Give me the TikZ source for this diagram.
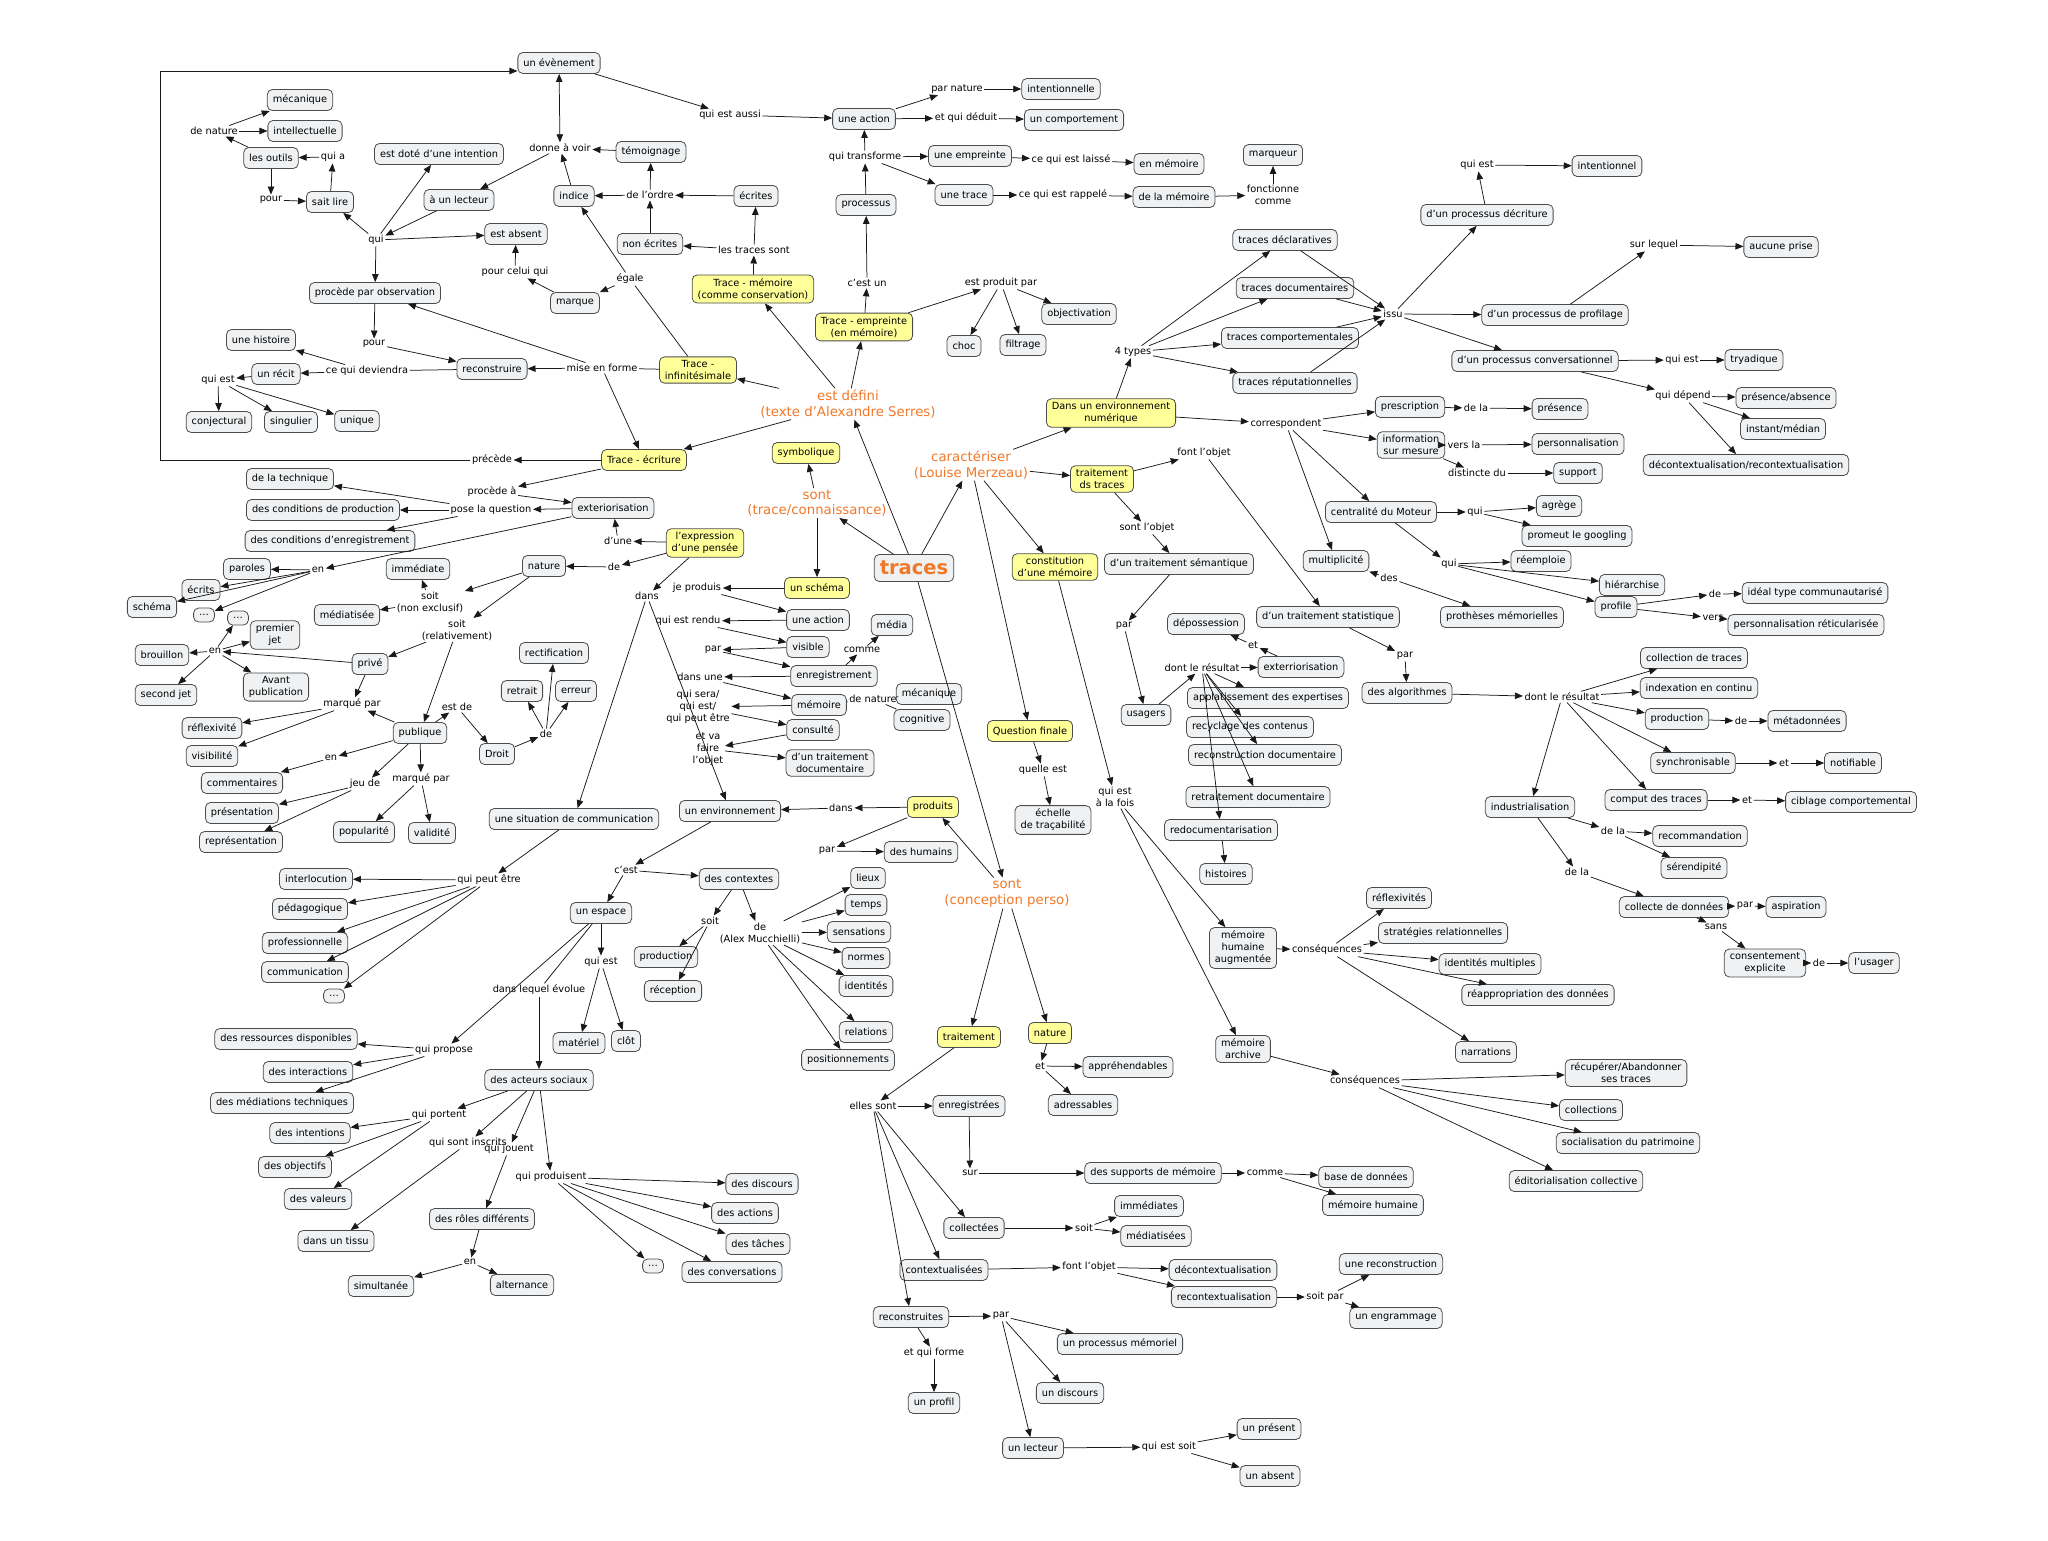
\documentclass[tikz,border=0pt]{standalone}
\usepackage{fontspec}
\setmainfont{DejaVu Sans}
\usetikzlibrary{arrows.meta}
\definecolor{cgray}{RGB}{239,241,243}
\definecolor{cyellow}{RGB}{255,255,153}
\definecolor{corange}{RGB}{240,120,40}

\begin{document}
\begin{tikzpicture}[
  x=1pt, y=-1pt,
  cpt/.style={draw=black!70, rounded corners=5pt, fill=cgray, align=center,
              font=\fontsize{9.8}{12}\selectfont, line width=0.8pt,
              inner xsep=5.5pt, inner ysep=3.5pt, minimum height=21pt},
  ycpt/.style={cpt, fill=cyellow},
  lnk/.style={align=center, font=\fontsize{9.8}{12}\selectfont, inner sep=1.5pt},
  org/.style={align=center, font=\fontsize{13.3}{15.5}\selectfont, text=corange, inner sep=1.5pt},
  big/.style={cpt, font=\bfseries\fontsize{19.5}{21}\selectfont, text=corange, minimum height=27pt},
  arr/.style={-{Triangle[length=8pt, width=6.5pt]}, line width=0.75pt, draw=black!90},
  arr2/.style={{Triangle[length=8pt, width=6.5pt]}-{Triangle[length=8pt, width=6.5pt]},
               line width=0.75pt, draw=black!90},
  ln/.style={line width=0.75pt, draw=black!90}
]
  \useasboundingbox (0,0) rectangle (2048,1540);

  % ========== CENTRE ==========
  \node[big] (traces) at (914,568) {traces};
  \node[org] (estdef) at (848,404) {est défini\\(texte d'Alexandre Serres)};
  \node[org] (sontk) at (817,503) {sont\\(trace/connaissance)};
  \node[org] (caract) at (971,465) {caractériser\\(Louise Merzeau)};
  \node[org] (sontp) at (1007,893) {sont\\(conception perso)};

  % ========== SERRES: TRACES ==========
  \node[ycpt] (tinf) at (698,370) {Trace -\\infinitésimale};
  \node[ycpt] (tmem) at (753,289) {Trace - mémoire\\(comme conservation)};
  \node[ycpt] (temp) at (864,327) {Trace - empreinte\\(en mémoire)};
  \node[ycpt] (tecr) at (644,460) {Trace - écriture};

  \node[cpt] (evt) at (559,63) {un évènement};
  \node[lnk] (qea) at (730,115) {qui est aussi};
  \node[cpt] (act1) at (864,119) {une action};
  \node[lnk] (parnat) at (957,89) {par nature};
  \node[cpt] (intlle) at (1061,89) {intentionnelle};
  \node[lnk] (qded) at (966,118) {et qui déduit};
  \node[cpt] (comport) at (1074,120) {un comportement};
  \node[lnk] (qtrans) at (865,157) {qui transforme};
  \node[cpt] (empr) at (970,156) {une empreinte};
  \node[cpt] (utrace) at (964,195) {une trace};
  \node[cpt] (process) at (866,205) {processus};
  \node[lnk] (qlaisse) at (1071,160) {ce qui est laissé};
  \node[cpt] (enmem) at (1169,164) {en mémoire};
  \node[lnk] (qrapp) at (1063,195) {ce qui est rappelé};
  \node[cpt] (delamem) at (1174,197) {de la mémoire};
  \node[lnk] (fcomme) at (1273,195) {fonctionne\\comme};
  \node[cpt] (marqueur) at (1273,155) {marqueur};
  \node[lnk] (cestun) at (867,283) {c'est un};
  \node[lnk] (prodpar) at (1001,283) {est produit par};
  \node[cpt] (choc) at (964,346) {choc};
  \node[cpt] (filtrage) at (1023,345) {filtrage};
  \node[cpt] (objectiv) at (1079,314) {objectivation};

  \node[lnk] (dav) at (560,148) {donne à voir};
  \node[cpt] (temoin) at (651,152) {témoignage};
  \node[cpt] (indice) at (574,196) {indice};
  \node[lnk] (delord) at (650,195) {de l'ordre};
  \node[cpt] (ecrites) at (756,196) {écrites};
  \node[cpt] (nonecr) at (650,244) {non écrites};
  \node[lnk] (tsont) at (754,250) {les traces sont};
  \node[lnk] (egale) at (630,279) {égale};
  \node[cpt] (marque) at (575,303) {marque};
  \node[lnk] (mef) at (602,368) {mise en forme};

  % ========== TOP LEFT ==========
  \node[lnk] (prec) at (492,460) {précède};
  \node[cpt] (meca1) at (300,100) {mécanique};
  \node[cpt] (intel) at (305,131) {intellectuelle};
  \node[lnk] (denat1) at (214,131) {de nature};
  \node[cpt] (outils) at (271,158) {les outils};
  \node[lnk] (quia) at (333,157) {qui a};
  \node[lnk] (pour1) at (271,200) {pour};
  \node[cpt] (sait) at (330,202) {sait lire};
  \node[cpt] (dote) at (439,154) {est doté d'une intention};
  \node[cpt] (alect) at (459,200) {à un lecteur};
  \node[lnk] (qui1) at (376,240) {qui};
  \node[cpt] (absent) at (516,234) {est absent};
  \node[lnk] (pcq) at (515,272) {pour celui qui};
  \node[cpt] (ppo) at (375,293) {procède par observation};
  \node[lnk] (pour2) at (374,344) {pour};
  \node[cpt] (hist) at (261,340) {une histoire};
  \node[cpt] (reconst) at (492,369) {reconstruire};
  \node[lnk] (cqd) at (367,371) {ce qui deviendra};
  \node[cpt] (recit) at (276,374) {un récit};
  \node[lnk] (qest1) at (218,380) {qui est};
  \node[cpt] (conj) at (219,422) {conjectural};
  \node[cpt] (sing) at (291,422) {singulier};
  \node[cpt] (uniq) at (357,421) {unique};
  \coordinate (fbl) at (160,460);
  \coordinate (ftl) at (160,71);

  % ========== LEFT: EXTERIORISATION ==========
  \node[cpt] (tech) at (290,479) {de la technique};
  \node[lnk] (procda) at (492,492) {procède à};
  \node[cpt] (condprod) at (323,510) {des conditions de production};
  \node[lnk] (plq) at (491,510) {pose la question};
  \node[cpt] (condenr) at (330,541) {des conditions d'enregistrement};
  \node[cpt] (exter) at (613,508) {exteriorisation};
  \node[lnk] (dune) at (618,541) {d'une};
  \node[ycpt] (expr) at (705,543) {l'expression\\d'une pensée};
  \node[cpt] (nature1) at (544,566) {nature};
  \node[lnk] (de2) at (614,567) {de};
  \node[lnk] (en1) at (318,570) {en};
  \node[cpt] (paroles) at (247,569) {paroles};
  \node[cpt] (ecrits) at (201,590) {écrits};
  \node[cpt] (schema) at (152,607) {schéma};
  \node[cpt, minimum height=14pt] (dots1) at (204,615) {…};
  \node[cpt, minimum height=14pt] (dots2) at (238,618) {…};
  \node[cpt] (prem) at (275,635) {premier\\jet};
  \node[lnk] (en2) at (215,651) {en};
  \node[cpt] (brouil) at (162,655) {brouillon};
  \node[cpt] (second) at (166,695) {second jet};
  \node[cpt] (avant) at (276,687) {Avant\\publication};
  \node[cpt] (immed) at (418,569) {immédiate};
  \node[lnk] (soitne) at (430,602) {soit\\(non exclusif)};
  \node[cpt] (mediat) at (347,615) {médiatisée};
  \node[lnk] (soitrel) at (457,630) {soit\\(relativement)};
  \node[cpt] (prive) at (370,664) {privé};
  \node[lnk] (mpar1) at (352,704) {marqué par};
  \node[cpt] (reflex) at (212,728) {réflexivité};
  \node[cpt] (visib) at (212,756) {visibilité};
  \node[lnk] (estde) at (457,707) {est de};
  \node[cpt] (publ) at (420,733) {publique};
  \node[cpt] (droit) at (497,754) {Droit};
  \node[lnk] (en3) at (331,758) {en};
  \node[cpt] (comment) at (242,783) {commentaires};
  \node[lnk] (jeude) at (365,784) {jeu de};
  \node[lnk] (mpar2) at (421,779) {marqué par};
  \node[cpt] (present) at (242,813) {présentation};
  \node[cpt] (repres) at (241,842) {représentation};
  \node[cpt] (popul) at (364,832) {popularité};
  \node[cpt] (valid) at (432,833) {validité};
  \node[cpt] (rectif) at (554,653) {rectification};
  \node[cpt] (retrait) at (522,691) {retrait};
  \node[cpt] (erreur) at (576,691) {erreur};
  \node[lnk] (de1) at (546,734) {de};

  % ========== LEFT: COMMUNICATION ==========
  \node[lnk] (dans1) at (647,596) {dans};
  \node[cpt] (situ) at (574,819) {une situation de communication};
  \node[lnk] (qpe) at (489,880) {qui peut être};
  \node[cpt] (interloc) at (316,879) {interlocution};
  \node[cpt] (pedago) at (310,909) {pédagogique};
  \node[cpt] (profess) at (305,943) {professionnelle};
  \node[cpt] (commun) at (305,972) {communication};
  \node[cpt, minimum height=14pt] (dots3) at (334,996) {…};

  % ========== MIDDLE: SCHEMA ==========
  \node[ycpt] (symb) at (806,453) {symbolique};
  \node[lnk] (jeprod) at (697,588) {je produis};
  \node[ycpt] (schema2) at (817,588) {un schéma};
  \node[cpt] (act2) at (818,620) {une action};
  \node[lnk] (qrendu) at (688,621) {qui est rendu};
  \node[cpt] (visible) at (808,647) {visible};
  \node[lnk] (par1) at (713,650) {par};
  \node[cpt] (media) at (892,625) {média};
  \node[lnk] (comme1) at (862,650) {comme};
  \node[cpt] (enreg) at (834,676) {enregistrement};
  \node[lnk] (dansune) at (700,677) {dans une};
  \node[cpt] (memoire) at (819,705) {mémoire};
  \node[lnk] (qsera) at (698,707) {qui sera/\\qui est/\\qui peut être};
  \node[lnk] (denat2) at (873,699) {de nature};
  \node[cpt] (meca2) at (929,694) {mécanique};
  \node[cpt] (cognit) at (922,720) {cognitive};
  \node[cpt] (consulte) at (813,730) {consulté};
  \node[lnk] (etva) at (708,749) {et va\\faire\\l'objet};
  \node[cpt] (dtdoc) at (830,763) {d'un traitement\\documentaire};

  % ========== MIDDLE: ENVIRONNEMENT ==========
  \node[cpt] (envir) at (730,811) {un environnement};
  \node[lnk] (dans2) at (841,808) {dans};
  \node[ycpt] (produits) at (933,807) {produits};
  \node[lnk] (par2) at (827,851) {par};
  \node[cpt] (humains) at (921,852) {des humains};
  \node[lnk] (cest) at (626,870) {c'est};
  \node[cpt] (context) at (739,879) {des contextes};
  \node[cpt] (espace) at (601,913) {un espace};
  \node[lnk] (soit1) at (710,921) {soit};
  \node[lnk] (demuc) at (760,933) {de\\(Alex Mucchielli)};
  \node[cpt] (lieux) at (868,878) {lieux};
  \node[cpt] (temps) at (866,905) {temps};
  \node[cpt] (sensat) at (859,932) {sensations};
  \node[cpt] (normes) at (866,958) {normes};
  \node[cpt] (ident) at (866,986) {identités};
  \node[cpt] (relat) at (866,1032) {relations};
  \node[cpt] (position) at (848,1060) {positionnements};
  \node[cpt] (prodc) at (666,957) {production};
  \node[cpt] (recep) at (673,991) {réception};
  \node[lnk] (qest2) at (601,962) {qui est};
  \node[lnk] (dlev) at (539,990) {dans lequel évolue};
  \node[cpt] (materiel) at (579,1043) {matériel};
  \node[cpt] (clot) at (626,1041) {clôt};

  % ========== BOTTOM LEFT: ACTEURS ==========
  \node[lnk] (qprop) at (444,1050) {qui propose};
  \node[cpt] (ressour) at (286,1039) {des ressources disponibles};
  \node[cpt] (interac) at (308,1072) {des interactions};
  \node[cpt] (mediatech) at (282,1103) {des médiations techniques};
  \node[cpt] (acteurs) at (539,1080) {des acteurs sociaux};
  \node[lnk] (qport) at (439,1115) {qui portent};
  \node[cpt] (intentions) at (310,1133) {des intentions};
  \node[cpt] (objectifs) at (295,1167) {des objectifs};
  \node[cpt] (valeurs) at (318,1199) {des valeurs};
  \node[cpt] (tissu) at (336,1241) {dans un tissu};
  \node[lnk] (qinscr) at (468,1143) {qui sont inscrits};
  \node[lnk] (qjouent) at (509,1149) {qui jouent};
  \node[lnk] (qprodu) at (551,1177) {qui produisent};
  \node[cpt] (roles) at (482,1219) {des rôles différents};
  \node[lnk] (en4) at (470,1262) {en};
  \node[cpt] (simult) at (381,1286) {simultanée};
  \node[cpt] (altern) at (522,1285) {alternance};
  \node[cpt] (discours) at (762,1184) {des discours};
  \node[cpt] (actions) at (745,1213) {des actions};
  \node[cpt] (taches) at (758,1244) {des tâches};
  \node[cpt] (convers) at (732,1272) {des conversations};
  \node[cpt, minimum height=14pt] (dots4) at (653,1266) {…};

  % ========== BOTTOM: TRAITEMENT ==========
  \node[ycpt] (traitem) at (969,1037) {traitement};
  \node[ycpt] (nature2) at (1050,1033) {nature};
  \node[lnk] (et1) at (1040,1066) {et};
  \node[cpt] (appreh) at (1128,1067) {appréhendables};
  \node[cpt] (adress) at (1083,1105) {adressables};
  \node[lnk] (ellessont) at (873,1106) {elles sont};
  \node[cpt] (enregs) at (969,1106) {enregistrées};
  \node[lnk] (sur) at (970,1173) {sur};
  \node[cpt] (collect) at (974,1228) {collectées};
  \node[cpt] (contextu) at (944,1270) {contextualisées};
  \node[cpt] (reconsts) at (911,1317) {reconstruites};
  \node[lnk] (par3) at (1001,1316) {par};
  \node[lnk] (etqf) at (934,1353) {et qui forme};
  \node[cpt] (profil) at (934,1403) {un profil};
  \node[cpt] (supports) at (1153,1173) {des supports de mémoire};
  \node[lnk] (comme2) at (1265,1173) {comme};
  \node[cpt] (bdd) at (1366,1177) {base de données};
  \node[cpt] (memhum) at (1373,1205) {mémoire humaine};
  \node[lnk] (soit2) at (1084,1228) {soit};
  \node[cpt] (immeds) at (1149,1206) {immédiates};
  \node[cpt] (mediats) at (1156,1236) {médiatisées};
  \node[lnk] (fobj2) at (1089,1267) {font l'objet};
  \node[cpt] (decont) at (1223,1270) {décontextualisation};
  \node[cpt] (recont) at (1224,1297) {recontextualisation};
  \node[lnk] (soitpar) at (1325,1297) {soit par};
  \node[cpt] (ureconst) at (1391,1264) {une reconstruction};
  \node[cpt] (engram) at (1396,1318) {un engrammage};
  \node[cpt] (procmem) at (1120,1344) {un processus mémoriel};
  \node[cpt] (udisc) at (1070,1393) {un discours};
  \node[cpt] (ulect) at (1033,1448) {un lecteur};
  \node[lnk] (qes) at (1169,1447) {qui est soit};
  \node[cpt] (upres) at (1269,1429) {un présent};
  \node[cpt] (uabs) at (1270,1476) {un absent};

  % ========== RIGHT: NUMERIQUE ==========
  \node[ycpt] (denv) at (1111,413) {Dans un environnement\\numérique};
  \node[lnk] (types) at (1133,352) {4 types};
  \node[cpt] (tdecl) at (1285,240) {traces déclaratives};
  \node[cpt] (tdoc) at (1295,288) {traces documentaires};
  \node[cpt] (tcomp) at (1290,338) {traces comportementales};
  \node[cpt] (trep) at (1295,383) {traces réputationnelles};
  \node[lnk] (issu) at (1393,314) {issu};
  \node[cpt] (pecr) at (1487,215) {d'un processus décriture};
  \node[lnk] (qest3) at (1477,165) {qui est};
  \node[cpt] (intnel) at (1607,166) {intentionnel};
  \node[cpt] (pprof) at (1555,315) {d'un processus de profilage};
  \node[lnk] (surlequel) at (1654,245) {sur lequel};
  \node[cpt] (aucune) at (1781,247) {aucune prise};
  \node[cpt] (pconv) at (1535,361) {d'un processus conversationnel};
  \node[lnk] (qest4) at (1682,360) {qui est};
  \node[cpt] (tryad) at (1754,360) {tryadique};
  \node[lnk] (qdep) at (1683,396) {qui dépend};
  \node[cpt] (presabs) at (1786,398) {présence/absence};
  \node[cpt] (instmed) at (1783,429) {instant/médian};
  \node[cpt] (decrec) at (1746,465) {décontextualisation/recontextualisation};
  \node[lnk] (corresp) at (1286,424) {correspondent};
  \node[cpt] (prescr) at (1410,407) {prescription};
  \node[lnk] (dela1) at (1476,408) {de la};
  \node[cpt] (presence) at (1560,409) {présence};
  \node[cpt] (infsm) at (1411,445) {information\\sur mesure};
  \node[lnk] (versla) at (1464,445) {vers la};
  \node[cpt] (perso) at (1578,444) {personnalisation};
  \node[lnk] (distdu) at (1477,473) {distincte du};
  \node[cpt] (support) at (1578,473) {support};
  \node[cpt] (central) at (1381,512) {centralité du Moteur};
  \node[lnk] (qui2) at (1475,512) {qui};
  \node[cpt] (agrege) at (1559,506) {agrège};
  \node[cpt] (promeut) at (1577,536) {promeut le googling};
  \node[cpt] (multip) at (1336,561) {multiplicité};
  \node[lnk] (qui3) at (1449,564) {qui};
  \node[lnk] (des1) at (1389,578) {des};
  \node[cpt] (prothes) at (1502,617) {prothèses mémorielles};
  \node[cpt] (reempl) at (1541,561) {réemploie};
  \node[cpt] (hierar) at (1632,585) {hiérarchise};
  \node[cpt] (profile) at (1616,607) {profile};
  \node[lnk] (de3) at (1715,594) {de};
  \node[cpt] (ideal) at (1815,593) {idéal type communautarisé};
  \node[lnk] (vers) at (1713,618) {vers};
  \node[cpt] (persret) at (1806,625) {personnalisation réticularisée};

  % ========== RIGHT: TRAITEMENT DES TRACES ==========
  \node[ycpt] (tdst) at (1102,479) {traitement\\ds traces};
  \node[lnk] (fobj1) at (1204,453) {font l'objet};
  \node[lnk] (sobj) at (1147,528) {sont l'objet};
  \node[cpt] (tsem) at (1179,564) {d'un traitement sémantique};
  \node[cpt] (tstat) at (1328,617) {d'un traitement statistique};
  \node[lnk] (par4) at (1124,626) {par};
  \node[cpt] (deposs) at (1206,624) {dépossession};
  \node[lnk] (et2) at (1253,645) {et};
  \node[cpt] (exterr) at (1301,667) {exterriorisation};
  \node[lnk] (dlr1) at (1202,668) {dont le résultat};
  \node[cpt] (usagers) at (1146,715) {usagers};
  \node[cpt] (applat) at (1268,698) {applatissement des expertises};
  \node[cpt] (recycl) at (1250,727) {recyclage des contenus};
  \node[cpt] (recdoc) at (1265,755) {reconstruction documentaire};
  \node[cpt] (retrait2) at (1258,797) {retraitement documentaire};
  \node[cpt] (redoc) at (1221,830) {redocumentarisation};
  \node[cpt] (histoires) at (1226,874) {histoires};
  \node[lnk] (par5) at (1405,656) {par};
  \node[cpt] (algos) at (1407,693) {des algorithmes};
  \node[lnk] (dlr2) at (1562,697) {dont le résultat};
  \node[cpt] (colltr) at (1694,658) {collection de traces};
  \node[cpt] (index) at (1699,688) {indexation en continu};
  \node[cpt] (prod2) at (1677,719) {production};
  \node[lnk] (de4) at (1741,721) {de};
  \node[cpt] (meta) at (1807,721) {métadonnées};
  \node[cpt] (synch) at (1693,763) {synchronisable};
  \node[lnk] (et3) at (1784,763) {et};
  \node[cpt] (notif) at (1853,763) {notifiable};
  \node[cpt] (comput) at (1656,800) {comput des traces};
  \node[lnk] (et4) at (1747,800) {et};
  \node[cpt] (ciblage) at (1851,802) {ciblage comportemental};
  \node[cpt] (indus) at (1530,807) {industrialisation};
  \node[lnk] (dela2) at (1613,831) {de la};
  \node[cpt] (recomm) at (1700,836) {recommandation};
  \node[cpt] (serend) at (1694,868) {sérendipité};
  \node[lnk] (dela3) at (1577,872) {de la};
  \node[cpt] (collecte) at (1674,907) {collecte de données};
  \node[lnk] (par6) at (1745,906) {par};
  \node[cpt] (aspir) at (1796,907) {aspiration};
  \node[lnk] (sans) at (1716,927) {sans};
  \node[cpt] (consent) at (1765,963) {consentement\\explicite};
  \node[lnk] (de5) at (1819,963) {de};
  \node[cpt] (usager) at (1874,963) {l'usager};

  % ========== RIGHT: MEMOIRE ==========
  \node[ycpt] (constit) at (1055,567) {constitution\\d'une mémoire};
  \node[ycpt] (qfin) at (1030,731) {Question finale};
  \node[lnk] (quelle) at (1043,770) {quelle est};
  \node[cpt] (echelle) at (1053,820) {échelle\\de traçabilité};
  \node[lnk] (qalf) at (1115,797) {qui est\\à la fois};
  \node[cpt] (mha) at (1243,948) {mémoire\\humaine\\augmentée};
  \node[lnk] (cons1) at (1327,950) {conséquences};
  \node[cpt] (reflexs) at (1399,898) {réflexivités};
  \node[cpt] (strat) at (1443,933) {stratégies relationnelles};
  \node[cpt] (identm) at (1490,964) {identités multiples};
  \node[cpt] (reappr) at (1538,995) {réappropriation des données};
  \node[cpt] (narr) at (1486,1052) {narrations};
  \node[cpt] (march) at (1243,1049) {mémoire\\archive};
  \node[lnk] (cons2) at (1365,1081) {conséquences};
  \node[cpt] (recup) at (1626,1073) {récupérer/Abandonner\\ses traces};
  \node[cpt] (collections) at (1591,1110) {collections};
  \node[cpt] (social) at (1628,1143) {socialisation du patrimoine};
  \node[cpt] (editor) at (1576,1181) {éditorialisation collective};

  % ======== ARROWS: TOP ========
  \draw[arr2] (evt) -- (dav);
  \draw[arr] (evt) -- (qea);
  \draw[arr] (qea) -- (act1);
  \path (act1) edge[arr] (parnat) edge[arr] (qded);
  \draw[arr] (parnat) -- (intlle);
  \draw[arr] (qded) -- (comport);
  \draw[arr] (temp) -- (cestun);
  \draw[arr] (cestun) -- (process);
  \draw[arr] (process) -- (qtrans);
  \path (qtrans) edge[arr] (act1) edge[arr] (empr) edge[arr] (utrace);
  \draw[arr] (empr) -- (qlaisse);
  \draw[arr] (qlaisse) -- (enmem);
  \draw[arr] (utrace) -- (qrapp);
  \draw[arr] (qrapp) -- (delamem);
  \draw[arr] (delamem) -- (fcomme);
  \draw[arr] (fcomme) -- (marqueur);
  \draw[arr] (temp) -- (prodpar);
  \path (prodpar) edge[arr] (choc) edge[arr] (filtrage) edge[arr] (objectiv);
  \draw[arr] (dav) -- (alect);
  \draw[arr] (temoin) -- (dav);
  \draw[arr] (indice) -- (dav);
  \path (delord) edge[arr] (indice) edge[arr] (temoin);
  \draw[arr] (ecrites) -- (delord);
  \draw[arr] (nonecr) -- (delord);
  \path (tsont) edge[arr] (nonecr) edge[arr] (ecrites);
  \draw[arr] (tmem) -- (tsont);
  \draw[ln] (tinf) -- (egale);
  \path (egale) edge[arr] (marque) edge[arr] (indice);
  \draw[arr] (marque) -- (pcq);
  \draw[arr] (pcq) -- (absent);
  \path (traces) edge[arr] (estdef) edge[arr] (sontk) edge[arr] (caract) edge[arr] (sontp);
  \path (estdef) edge[arr] (tinf) edge[arr] (tmem) edge[arr] (temp) edge[arr] (tecr);

  % ======== ARROWS: TOP LEFT ========
  \draw[arr] (alect) -- (qui1);
  \path (qui1) edge[arr] (dote) edge[arr] (sait) edge[arr] (absent) edge[arr] (ppo);
  \draw[arr] (sait) -- (quia);
  \draw[arr] (quia) -- (outils);
  \draw[arr] (outils) -- (denat1);
  \path (denat1) edge[arr] (meca1) edge[arr] (intel);
  \draw[arr] (outils) -- (pour1);
  \draw[arr] (pour1) -- (sait);
  \draw[arr] (ppo) -- (pour2);
  \draw[arr] (pour2) -- (reconst);
  \draw[ln] (tinf) -- (mef);
  \path (mef) edge[arr] (ppo) edge[arr] (reconst) edge[arr] (tecr);
  \draw[ln] (reconst) -- (cqd);
  \path (cqd) edge[arr] (hist) edge[arr] (recit);
  \draw[arr] (recit) -- (qest1);
  \path (qest1) edge[arr] (conj) edge[arr] (sing) edge[arr] (uniq);
  \draw[arr] (tecr) -- (prec);
  \draw[arr] (prec) -- (fbl) -- (ftl) -- (evt.west |- ftl);

  % ======== ARROWS: LEFT ========
  \draw[arr] (tecr) -- (procda);
  \draw[arr] (procda) -- (exter);
  \draw[arr] (exter) -- (plq);
  \path (plq) edge[arr] (tech) edge[arr] (condprod) edge[arr] (condenr);
  \draw[arr] (expr) -- (dune);
  \draw[arr] (dune) -- (exter);
  \draw[arr] (expr) -- (de2);
  \draw[arr] (de2) -- (nature1);
  \path (nature1) edge[arr] (soitne) edge[arr] (soitrel);
  \path (soitne) edge[arr] (immed) edge[arr] (mediat);
  \path (soitrel) edge[arr] (prive) edge[arr] (publ);
  \draw[arr] (exter) -- (en1);
  \path (en1) edge[arr] (paroles) edge[arr] (ecrits) edge[arr] (schema) edge[arr] (dots1);
  \draw[arr] (prive) -- (en2);
  \path (en2) edge[arr] (brouil) edge[arr] (second) edge[arr] (avant)
              edge[arr] (prem) edge[arr] (dots2);
  \draw[arr] (prive) -- (mpar1);
  \draw[arr] (publ) -- (mpar1);
  \path (mpar1) edge[arr] (reflex) edge[arr] (visib);
  \draw[arr] (publ) -- (estde);
  \draw[arr] (estde) -- (droit);
  \draw[arr] (droit) -- (de1);
  \path (de1) edge[arr] (retrait) edge[arr] (rectif) edge[arr] (erreur);
  \draw[arr] (publ) -- (en3);
  \draw[arr] (en3) -- (comment);
  \draw[arr] (publ) -- (jeude);
  \path (jeude) edge[arr] (present) edge[arr] (repres);
  \draw[arr] (publ) -- (mpar2);
  \path (mpar2) edge[arr] (popul) edge[arr] (valid);
  \draw[arr] (expr) -- (dans1);
  \path (dans1) edge[arr] (situ) edge[arr] (envir);
  \draw[arr] (situ) -- (qpe);
  \path (qpe) edge[arr] (interloc) edge[arr] (pedago) edge[arr] (profess)
              edge[arr] (commun) edge[arr] (dots3);

  % ======== ARROWS: SCHEMA ========
  \draw[arr] (sontk) -- (symb);
  \draw[arr] (sontk) -- (schema2);
  \draw[arr] (schema2) -- (jeprod);
  \draw[arr] (jeprod) -- (act2);
  \draw[arr] (act2) -- (qrendu);
  \draw[arr] (qrendu) -- (visible);
  \draw[arr] (visible) -- (par1);
  \draw[arr] (par1) -- (enreg);
  \draw[arr] (enreg) -- (comme1);
  \draw[arr] (comme1) -- (media);
  \draw[arr] (enreg) -- (dansune);
  \draw[arr] (dansune) -- (memoire);
  \draw[arr] (memoire) -- (qsera);
  \draw[arr] (qsera) -- (consulte);
  \draw[arr] (consulte) -- (etva);
  \draw[arr] (etva) -- (dtdoc);
  \draw[ln] (memoire) -- (denat2);
  \path (denat2) edge[ln] (meca2) edge[ln] (cognit);

  % ======== ARROWS: ENVIRONNEMENT ========
  \path (sontp) edge[arr] (produits) edge[arr] (traitem) edge[arr] (nature2);
  \draw[arr] (produits) -- (dans2);
  \draw[arr] (dans2) -- (envir);
  \draw[arr] (produits) -- (par2);
  \draw[arr] (par2) -- (humains);
  \draw[arr] (envir) -- (cest);
  \path (cest) edge[arr] (context) edge[arr] (espace);
  \draw[arr] (context) -- (soit1);
  \path (soit1) edge[arr] (prodc) edge[arr] (recep);
  \draw[arr] (context) -- (demuc);
  \path (demuc) edge[arr] (lieux) edge[arr] (temps) edge[arr] (sensat) edge[arr] (normes)
                edge[arr] (ident) edge[arr] (relat) edge[arr] (position);
  \draw[arr] (espace) -- (qest2);
  \path (qest2) edge[arr] (materiel) edge[arr] (clot);
  \draw[ln] (espace) -- (dlev);
  \draw[arr] (dlev) -- (acteurs);
  \draw[arr] (espace) -- (qprop);
  \path (qprop) edge[arr] (ressour) edge[arr] (interac) edge[arr] (mediatech);
  \path (acteurs) edge[arr] (qport) edge[arr] (qinscr) edge[arr] (qjouent) edge[arr] (qprodu);
  \path (qport) edge[arr] (intentions) edge[arr] (objectifs) edge[arr] (valeurs);
  \draw[arr] (qinscr) -- (tissu);
  \draw[arr] (qjouent) -- (roles);
  \draw[arr] (roles) -- (en4);
  \path (en4) edge[arr] (simult) edge[arr] (altern);
  \path (qprodu) edge[arr] (discours) edge[arr] (actions) edge[arr] (taches)
                 edge[arr] (convers) edge[arr] (dots4);

  % ======== ARROWS: TRAITEMENT ========
  \draw[arr] (nature2) -- (et1);
  \path (et1) edge[arr] (appreh) edge[arr] (adress);
  \draw[arr] (traitem) -- (ellessont);
  \path (ellessont) edge[arr] (enregs) edge[arr] (collect) edge[arr] (contextu) edge[arr] (reconsts);
  \draw[arr] (enregs) -- (sur);
  \draw[arr] (sur) -- (supports);
  \draw[arr] (supports) -- (comme2);
  \path (comme2) edge[arr] (bdd) edge[arr] (memhum);
  \draw[arr] (collect) -- (soit2);
  \path (soit2) edge[arr] (immeds) edge[arr] (mediats);
  \draw[arr] (contextu) -- (fobj2);
  \path (fobj2) edge[arr] (decont) edge[arr] (recont);
  \draw[arr] (recont) -- (soitpar);
  \path (soitpar) edge[arr] (ureconst) edge[arr] (engram);
  \draw[arr] (reconsts) -- (par3);
  \path (par3) edge[arr] (procmem) edge[arr] (udisc) edge[arr] (ulect);
  \draw[arr] (ulect) -- (qes);
  \path (qes) edge[arr] (upres) edge[arr] (uabs);
  \draw[arr] (reconsts) -- (etqf);
  \draw[arr] (etqf) -- (profil);

  % ======== ARROWS: NUMERIQUE ========
  \path (caract) edge[arr] (denv) edge[arr] (tdst) edge[arr] (constit) edge[arr] (qfin);
  \draw[arr] (denv) -- (types);
  \path (types) edge[arr] (tdecl) edge[arr] (tdoc) edge[arr] (tcomp) edge[arr] (trep);
  \path (issu) edge[arr] (pecr) edge[arr] (pprof) edge[arr] (pconv);
  \draw[arr] (tdecl) -- (issu);
  \draw[arr] (tdoc) -- (issu);
  \draw[arr] (tcomp) -- (issu);
  \draw[arr] (trep) -- (issu);
  \draw[arr] (pecr) -- (qest3);
  \draw[arr] (qest3) -- (intnel);
  \draw[arr] (pprof) -- (surlequel);
  \draw[arr] (surlequel) -- (aucune);
  \draw[arr] (pconv) -- (qest4);
  \draw[arr] (qest4) -- (tryad);
  \draw[arr] (pconv) -- (qdep);
  \path (qdep) edge[arr] (presabs) edge[arr] (instmed) edge[arr] (decrec);
  \draw[arr] (denv) -- (corresp);
  \path (corresp) edge[arr] (prescr) edge[arr] (infsm) edge[arr] (central) edge[arr] (multip);
  \draw[arr] (prescr) -- (dela1);
  \draw[arr] (dela1) -- (presence);
  \draw[arr] (infsm) -- (versla);
  \draw[arr] (versla) -- (perso);
  \draw[arr] (infsm) -- (distdu);
  \draw[arr] (distdu) -- (support);
  \draw[arr] (central) -- (qui2);
  \path (qui2) edge[arr] (agrege) edge[arr] (promeut);
  \draw[arr] (central) -- (qui3);
  \path (qui3) edge[arr] (reempl) edge[arr] (hierar) edge[arr] (profile);
  \path (des1) edge[arr] (multip) edge[arr] (prothes);
  \draw[arr] (profile) -- (de3);
  \draw[arr] (de3) -- (ideal);
  \draw[arr] (profile) -- (vers);
  \draw[arr] (vers) -- (persret);

  % ======== ARROWS: TRAITEMENT DES TRACES ========
  \draw[arr] (tdst) -- (fobj1);
  \draw[arr] (fobj1) -- (tstat);
  \draw[arr] (tdst) -- (sobj);
  \draw[arr] (sobj) -- (tsem);
  \draw[arr] (tsem) -- (par4);
  \draw[arr] (par4) -- (usagers);
  \draw[arr] (usagers) -- (dlr1);
  \path (dlr1) edge[arr] (exterr) edge[arr] (applat) edge[arr] (recycl)
               edge[arr] (recdoc) edge[arr] (retrait2) edge[arr] (redoc);
  \draw[arr] (exterr) -- (et2);
  \draw[arr] (et2) -- (deposs);
  \draw[arr] (redoc) -- (histoires);
  \draw[arr] (tstat) -- (par5);
  \draw[arr] (par5) -- (algos);
  \draw[arr] (algos) -- (dlr2);
  \path (dlr2) edge[arr] (colltr) edge[arr] (index) edge[arr] (prod2)
               edge[arr] (synch) edge[arr] (comput) edge[arr] (indus);
  \draw[arr] (prod2) -- (de4);
  \draw[arr] (de4) -- (meta);
  \draw[arr] (synch) -- (et3);
  \draw[arr] (et3) -- (notif);
  \draw[arr] (comput) -- (et4);
  \draw[arr] (et4) -- (ciblage);
  \path (indus) edge[arr] (dela2) edge[arr] (dela3);
  \path (dela2) edge[arr] (recomm) edge[arr] (serend);
  \draw[arr] (dela3) -- (collecte);
  \draw[arr] (collecte) -- (par6);
  \draw[arr] (par6) -- (aspir);
  \draw[arr] (collecte) -- (sans);
  \draw[arr] (sans) -- (consent);
  \draw[arr] (consent) -- (de5);
  \draw[arr] (de5) -- (usager);

  % ======== ARROWS: MEMOIRE ========
  \draw[arr] (qfin) -- (quelle);
  \draw[arr] (quelle) -- (echelle);
  \draw[arr] (constit) -- (qalf);
  \path (qalf) edge[arr] (mha) edge[arr] (march);
  \draw[arr] (mha) -- (cons1);
  \path (cons1) edge[arr] (reflexs) edge[arr] (strat) edge[arr] (identm)
                edge[arr] (reappr) edge[arr] (narr);
  \draw[arr] (march) -- (cons2);
  \path (cons2) edge[arr] (recup) edge[arr] (collections) edge[arr] (social) edge[arr] (editor);

\end{tikzpicture}
\end{document}
